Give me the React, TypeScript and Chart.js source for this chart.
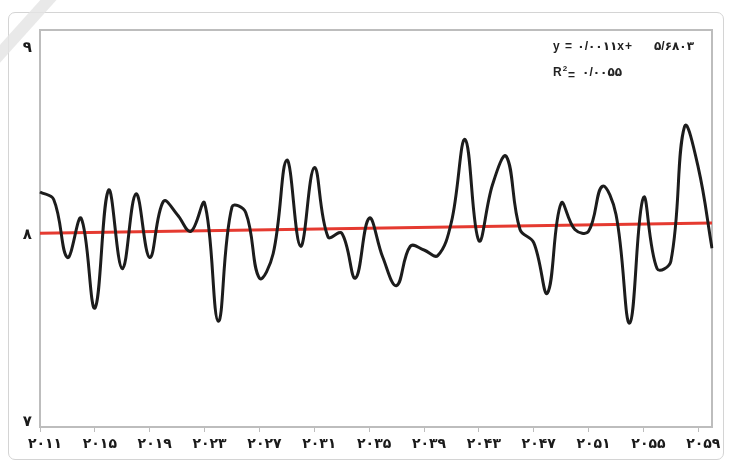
import React, { useEffect, useRef } from 'react';
import { Chart, registerables } from 'chart.js';

Chart.register(...registerables);

// Years (categories)
const years = [
  '2011', '2012', '2013', '2014', '2015', '2016', '2017', '2018', '2019', '2020',
  '2021', '2022', '2023', '2024', '2025', '2026', '2027', '2028', '2029', '2030',
  '2031', '2032', '2033', '2034', '2035', '2036', '2037', '2038', '2039', '2040',
  '2041', '2042', '2043', '2044', '2045', '2046', '2047', '2048', '2049', '2050',
  '2051', '2052', '2053', '2054', '2055', '2056', '2057', '2058', '2059', '2060',
];

// Series values
const values = [
  8.23, 8.19, 7.88, 8.09, 7.61, 8.24, 7.82, 8.22, 7.88, 8.18,
  8.11, 8.02, 8.17, 7.54, 8.15, 8.12, 7.77, 7.90, 8.40, 7.94,
  8.36, 7.99, 8.01, 7.77, 8.09, 7.88, 7.73, 7.94, 7.92, 7.89,
  8.07, 8.51, 7.97, 8.27, 8.42, 8.03, 7.96, 7.69, 8.17, 8.03,
  8.02, 8.26, 8.11, 7.53, 8.20, 7.82, 7.86, 8.58, 8.36, 7.93,
];

// Linear trend line: value at first and last year
const trendValues = [8.01, 8.064];

// Y-axis tick values and label step for x
const yTicks = [7, 8, 9];
const xLabelStep = 4;

const equationLeft = 'y = ۰/۰۰۱۱x+';
const equationRight = '۵/۶۸۰۳';
const r2Value = '۰/۰۰۵۵';

const faDigits = '۰۱۲۳۴۵۶۷۸۹';
const toFa = (s: string | number) => String(s).replace(/\d/g, (d) => faDigits[+d]);

const FONT_FAMILY = '"DejaVu Sans", "Liberation Sans", sans-serif';
const TEXT_FONT = '"Liberation Sans", "DejaVu Sans", sans-serif';
const AXIS_GRAY = '#bdbdbd';

const frameAndTextPlugin = {
  id: 'frameAndText',
  beforeDatasetsDraw(chart: any) {
    const { ctx, chartArea } = chart;
    ctx.save();
    ctx.strokeStyle = AXIS_GRAY;
    ctx.lineWidth = 2;
    ctx.strokeRect(chartArea.left, chartArea.top, chartArea.right - chartArea.left, chartArea.bottom - chartArea.top);
    ctx.restore();
  },
  afterDraw(chart: any) {
    const { ctx } = chart;
    ctx.save();
    ctx.direction = 'ltr';
    ctx.fillStyle = '#222';
    ctx.textAlign = 'left';
    ctx.textBaseline = 'middle';
    (ctx as any).letterSpacing = '1px';
    ctx.font = `bold 12px ${TEXT_FONT}`;
    ctx.fillText(equationLeft, 553, 47);
    ctx.textAlign = 'right';
    ctx.fillText(equationRight, 694, 47);
    ctx.textAlign = 'left';
    ctx.fillText('R', 553, 73);
    let x = 553 + ctx.measureText('R').width;
    ctx.font = `bold 8px ${TEXT_FONT}`;
    ctx.fillText('2', x, 69);
    x += ctx.measureText('2').width;
    ctx.font = `bold 12px ${TEXT_FONT}`;
    ctx.fillText('=', x, 76);
    x += ctx.measureText('=').width + 6;
    ctx.fillText(r2Value, x, 73);
    ctx.restore();
  },
};

export default function App() {
  const canvasRef = useRef<HTMLCanvasElement | null>(null);

  useEffect(() => {
    if (!canvasRef.current) return;
    const chart = new Chart(canvasRef.current, {
      type: 'line',
      data: {
        labels: years,
        datasets: [
          {
            label: 'series',
            data: values,
            borderColor: '#1c1c1c',
            borderWidth: 3,
            tension: 0.4,
            pointRadius: 0,
            fill: false,
          },
          {
            label: 'trend',
            data: [
              { x: years[0], y: trendValues[0] },
              { x: years[years.length - 1], y: trendValues[1] },
            ] as any,
            borderColor: '#e53a30',
            borderWidth: 3,
            tension: 0,
            pointRadius: 0,
            fill: false,
          },
        ],
      },
      options: {
        animation: false,
        responsive: false,
        maintainAspectRatio: false,
        layout: { padding: { left: 0, top: 30, right: 18, bottom: 0 } },
        plugins: {
          legend: { display: false },
          tooltip: { enabled: false },
        },
        scales: {
          x: {
            type: 'category',
            offset: false,
            afterFit(scale: any) {
              scale.height = 37;
            },
            grid: {
              display: true,
              drawOnChartArea: false,
              drawTicks: true,
              tickLength: 5,
              color: (c: any) => (c.index % xLabelStep === 0 ? AXIS_GRAY : 'rgba(0,0,0,0)'),
            },
            border: { display: true, color: AXIS_GRAY, width: 2 },
            ticks: {
              autoSkip: false,
              maxRotation: 0,
              minRotation: 0,
              labelOffset: 5,
              padding: 4,
              color: '#1a1a1a',
              font: { family: FONT_FAMILY, size: 14, weight: 'bold' },
              callback: (_v: any, i: number) => (i % xLabelStep === 0 ? toFa(years[i]) : ''),
            },
          },
          y: {
            type: 'linear',
            min: 6.975,
            max: 9.095,
            afterFit(scale: any) {
              scale.width = 40;
            },
            afterBuildTicks(scale: any) {
              scale.ticks = yTicks.map((v) => ({ value: v }));
            },
            grid: { display: false, drawTicks: false },
            border: { display: true, color: AXIS_GRAY, width: 2 },
            ticks: {
              padding: 8,
              color: '#1a1a1a',
              font: { family: FONT_FAMILY, size: 15, weight: 'bold' },
              callback: (v: any) => toFa(v),
            },
          },
        },
      },
      plugins: [frameAndTextPlugin],
    });
    return () => chart.destroy();
  }, []);

  return (
    <div style={{ position: 'fixed', left: 0, top: 0, width: 730, height: 464, background: '#fff', overflow: 'hidden' }}>
      <div
        style={{
          position: 'absolute',
          left: 8,
          top: 12,
          width: 714,
          height: 446,
          border: '1px solid #d4d4d4',
          borderRadius: 7,
        }}
      />
      <div
        style={{
          position: 'absolute',
          left: -30,
          top: 20,
          width: 110,
          height: 12,
          background: '#e4e4e4',
          transform: 'rotate(-48deg)',
          opacity: 0.8,
        }}
      />
      <canvas ref={canvasRef} width={730} height={464} style={{ position: 'absolute', left: 0, top: 0 }} />
    </div>
  );
}
